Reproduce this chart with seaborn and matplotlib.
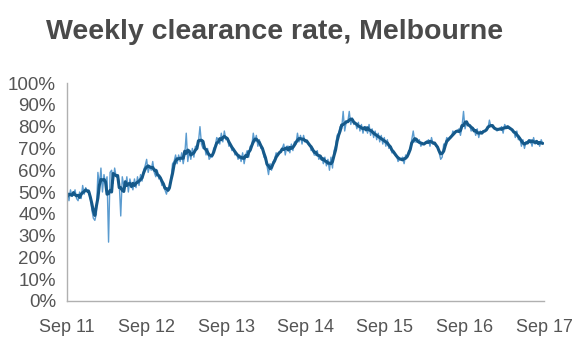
import numpy as np
import pandas as pd
import seaborn as sns
import matplotlib.pyplot as plt
import matplotlib.dates as mdates

# Weekly auction clearance rate (%), one list per year starting Sep 2011
yr_2011 = [50, 46, 51, 48, 49, 51, 47, 46, 50, 47,
           53, 49, 52, 50, 51, 48,
           42, 38, 37, 40,
           59, 53, 61, 50, 58, 54, 57,
           27,
           59, 60, 54, 61, 57,
           58, 54, 39, 57, 53,
           52, 57, 50, 56, 53, 51, 56, 52, 57, 53,
           58, 55, 60, 62]
yr_2012 = [65, 59, 62, 60, 64, 59, 57, 60,
           56, 57, 53, 54,
           51, 49, 52, 51,
           56, 63, 64, 67,
           63, 67, 64, 68, 63, 67,
           77, 64, 69, 65,
           70, 66, 71, 70, 73,
           80, 72, 70,
           71, 67, 70, 65, 66,
           66, 70, 71, 75, 74,
           72, 77, 73, 78]
yr_2013 = [74, 75, 71, 72,
           69, 70, 67, 68, 65,
           67, 64, 68, 63, 67, 69, 66,
           71, 71, 77, 73,
           76, 71, 74, 70,
           70, 66, 65, 62, 58, 63,
           60, 64, 65, 68, 67,
           68, 69, 70, 72, 67, 71, 71, 68, 72,
           69, 73, 72, 77, 73, 76, 72, 76]
yr_2014 = [73, 73, 72, 72,
           69, 70, 67, 67, 69,
           65, 66, 66, 63, 66, 62,
           65, 60, 66, 61, 69,
           71, 76, 77, 80,
           79, 87, 78, 82,
           82, 87, 81, 84,
           81, 82, 79, 82, 78, 81, 77, 80,
           80, 77, 81, 76, 79, 75, 78, 74, 77, 73, 76, 72]
yr_2015 = [75, 71, 74, 70, 71,
           68, 68, 67, 67, 64, 65,
           65, 66, 63, 67,
           66, 69, 69, 74, 78,
           73, 73, 73, 74, 71,
           72, 72, 73, 73, 74, 71, 75, 72,
           72, 71, 71, 68, 65,
           66, 72, 72, 75,
           74, 75, 75, 78, 77, 78,
           78, 79, 76, 80]
yr_2016 = [87, 79, 82, 81,
           81, 78, 79, 79,
           76, 79, 75, 78, 77,
           78, 78, 79, 79, 83,
           80, 80, 79, 79,
           78, 79, 79, 80, 77,
           81, 80, 80, 79,
           79, 78, 78, 75, 78,
           74, 75, 71, 74, 70,
           73, 73, 74, 74, 71,
           75, 72, 73, 73, 71, 74, 72]

weekly = yr_2011 + yr_2012 + yr_2013 + yr_2014 + yr_2015 + yr_2016
dates = pd.date_range("2011-09-03", periods=len(weekly), freq="7D")

df = pd.DataFrame({"date": dates, "rate": weekly})
# smoothed line: 4-week average of the weekly series
df["avg"] = df["rate"].rolling(4, min_periods=1, center=True).mean()

sns.set_style("white")
plt.rcParams["font.family"] = ["Liberation Sans", "DejaVu Sans"]

fig = plt.figure(figsize=(5.8, 3.52), dpi=100)
ax = fig.add_axes([0.1155, 0.145, 0.8225, 0.619])

sns.lineplot(data=df, x="date", y="rate", ax=ax, color="#5a9bcf", linewidth=1.0)
sns.lineplot(data=df, x="date", y="avg", ax=ax, color="#15598a", linewidth=2.2)

ax.set_ylim(0, 100)
ax.set_yticks(np.arange(0, 101, 10))
ax.set_yticklabels([f"{v}%" for v in range(0, 101, 10)])
ax.set_xlim(pd.Timestamp("2011-09-01"), pd.Timestamp("2017-09-01"))
ax.set_xticks([pd.Timestamp(f"{y}-09-01") for y in range(2011, 2018)])
ax.xaxis.set_major_formatter(mdates.DateFormatter("%b %y"))

ax.set_xlabel("")
ax.set_ylabel("")
for side in ["top", "right"]:
    ax.spines[side].set_visible(False)
for side in ["left", "bottom"]:
    ax.spines[side].set_color("#b0b0b0")
    ax.spines[side].set_linewidth(1.0)
ax.tick_params(axis="both", which="major", direction="out", length=4, width=1,
               color="#b0b0b0", labelcolor="#555555")
ax.tick_params(axis="y", labelsize=13.5, pad=4)
ax.tick_params(axis="x", labelsize=13, pad=9)

fig.text(46 / 580, 1 - 39 / 352, "Weekly clearance rate, Melbourne",
         fontsize=20.5, fontweight="bold", color="#4a4a4a", ha="left", va="baseline")

fig.savefig("out.png", dpi=100)
